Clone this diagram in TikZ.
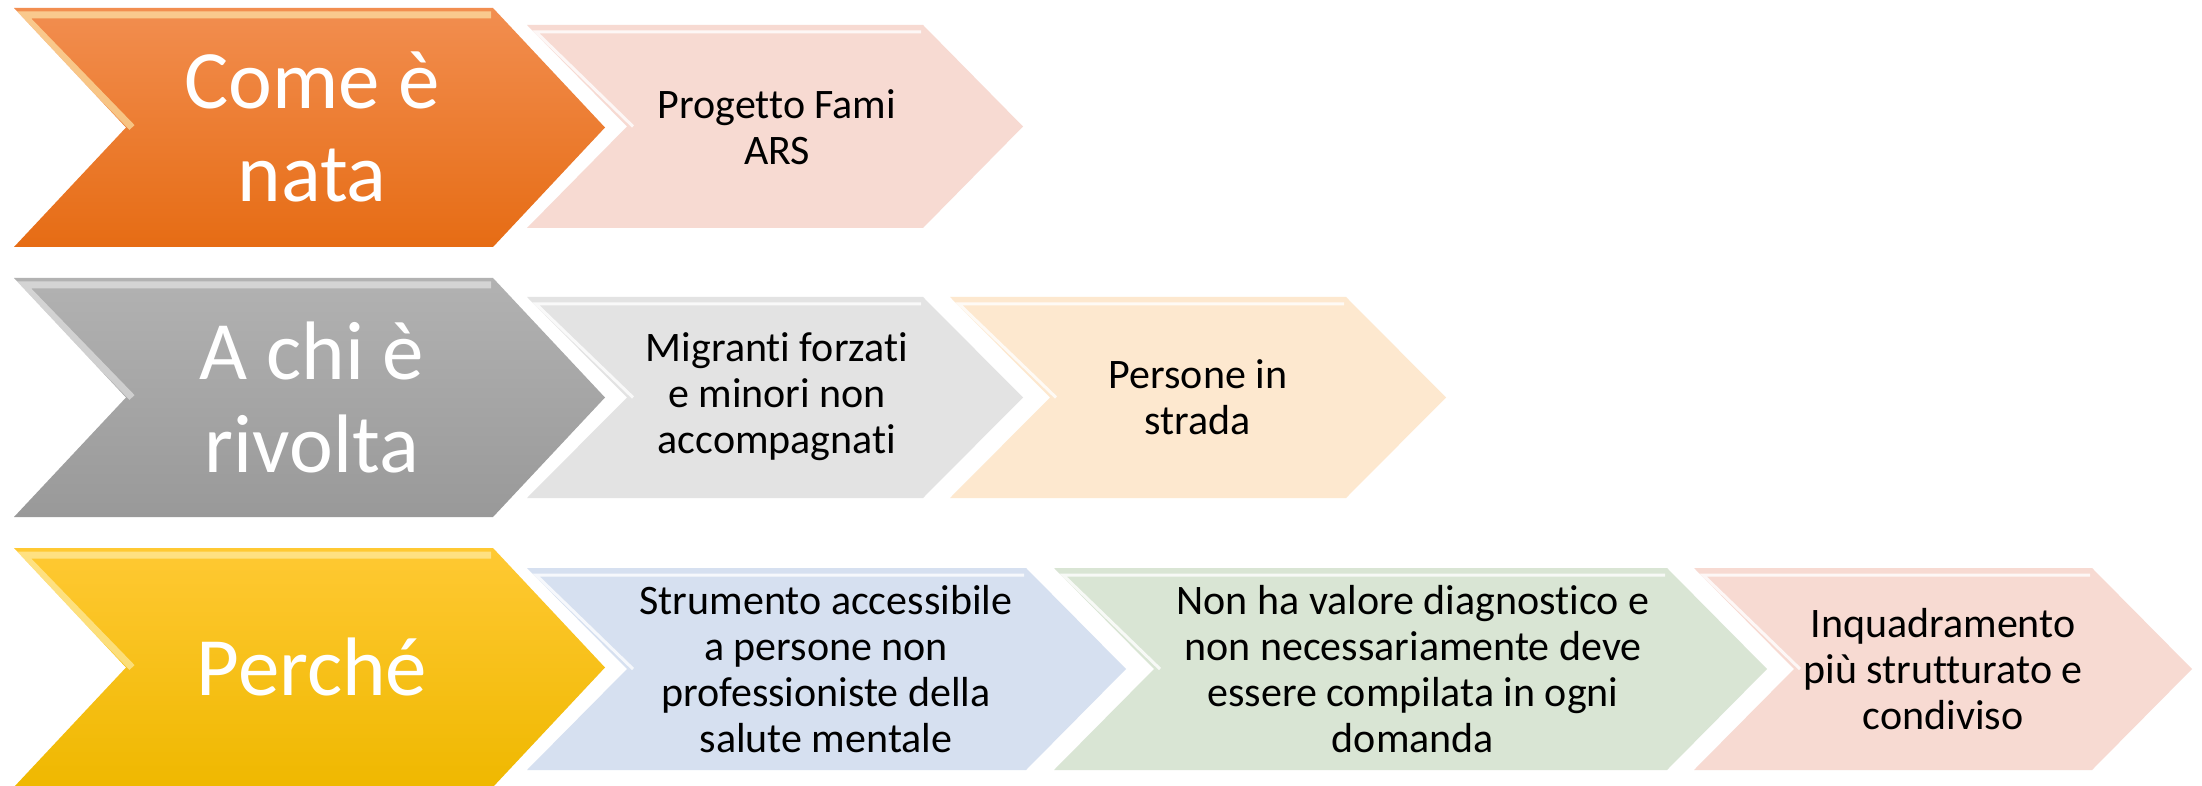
\documentclass[tikz,border=0pt]{standalone}
\usepackage{fontspec}
\setmainfont[Ligatures={NoCommon}]{Carlito}
\definecolor{orTop}{HTML}{F28E50}
\definecolor{orBot}{HTML}{E66C14}
\definecolor{grTop}{HTML}{B2B2B2}
\definecolor{grBot}{HTML}{999999}
\definecolor{yeTop}{HTML}{FFC933}
\definecolor{yeBot}{HTML}{EFB800}
\definecolor{pinkF}{HTML}{F7DAD2}
\definecolor{lgrayF}{HTML}{E3E3E3}
\definecolor{peachF}{HTML}{FDE8CF}
\definecolor{blueF}{HTML}{D6E0F0}
\definecolor{greenF}{HTML}{D9E5D4}
\definecolor{hiYel}{HTML}{FFF2B8}
% chevron: #1 xl, #2 xr, #3 yt, #4 yb, #5 depth, #6 fill style, #7 highlight style
\newcommand\chevron[7]{%
  \path[#6] (#1,#3) -- ({#2-#5},#3) -- (#2,{(#3+#4)/2}) -- ({#2-#5},#4) -- (#1,#4) -- ({#1+#5},{(#3+#4)/2}) -- cycle;
  \begin{scope}
    \clip (#1,#3) -- ({#2-#5},#3) -- (#2,{(#3+#4)/2}) -- ({#2-#5},#4) -- (#1,#4) -- ({#1+#5},{(#3+#4)/2}) -- cycle;
    \draw[#7] ({#1+#5+6},{(#3+#4)/2}) -- ({#1+9},{#3+7}) -- ({#2-#5-2},{#3+7});
  \end{scope}}
\tikzset{
  bigtxt/.style={text=white, align=center, font=\fontsize{41.5}{46.5}\selectfont},
  smalltxt/.style={text=black, align=center, font=\fontsize{21}{23}\selectfont},
  bighi/.style={line width=3.5pt, draw=hiYel, opacity=0.6, line join=miter},
  grayhi/.style={line width=3.5pt, draw=white, opacity=0.45, line join=miter},
  smallhi/.style={line width=1.5pt, draw=white, opacity=0.8, line join=miter},
  orfill/.style={top color=orTop, bottom color=orBot},
  grfill/.style={top color=grTop, bottom color=grBot},
  yefill/.style={top color=yeTop, bottom color=yeBot},
}
\begin{document}
\begin{tikzpicture}[x=0.5pt,y=-0.5pt]
\useasboundingbox (0,0) rectangle (2202,786);
\fill[white] (0,0) rectangle (2202,786);
% ---- Row 1
\chevron{14}{605}{8}{247}{112}{orfill}{bighi}
\chevron{527}{1023}{25}{228}{100}{fill=pinkF}{smallhi}
\node[bigtxt] (come) at (312,127) {Come è\\nata};
\node[smalltxt] (fami) at (777,127) {Progetto Fami\\ARS};
% ---- Row 2
\chevron{14}{605}{278}{517}{112}{grfill}{grayhi}
\chevron{950}{1446}{297}{498}{100}{fill=peachF}{smallhi}
\chevron{527}{1023}{297}{498}{100}{fill=lgrayF}{smallhi}
\node[bigtxt] (achi) at (312,397) {A chi è\\rivolta};
\node[smalltxt] (migr) at (777,397) {Migranti forzati\\e minori non\\accompagnati};
\node[smalltxt] (pers) at (1198,397) {Persone in\\strada};
% ---- Row 3
\chevron{14}{605}{548}{787}{112}{yefill}{bighi}
\chevron{1694}{2192}{568}{770}{100}{fill=pinkF}{smallhi}
\chevron{1054}{1767}{568}{770}{100}{fill=greenF}{smallhi}
\chevron{527}{1126}{568}{770}{100}{fill=blueF}{smallhi}
\node[bigtxt] (perche) at (312,667) {Perché};
\node[smalltxt] (strum) at (826,669) {Strumento accessibile\\a persone non\\professioniste della\\salute mentale};
\node[smalltxt] (nonha) at (1413,669) {Non ha valore diagnostico e\\non necessariamente deve\\essere compilata in ogni\\domanda};
\node[smalltxt] (inq) at (1943,669) {Inquadramento\\più strutturato e\\condiviso};
\end{tikzpicture}
\end{document}
